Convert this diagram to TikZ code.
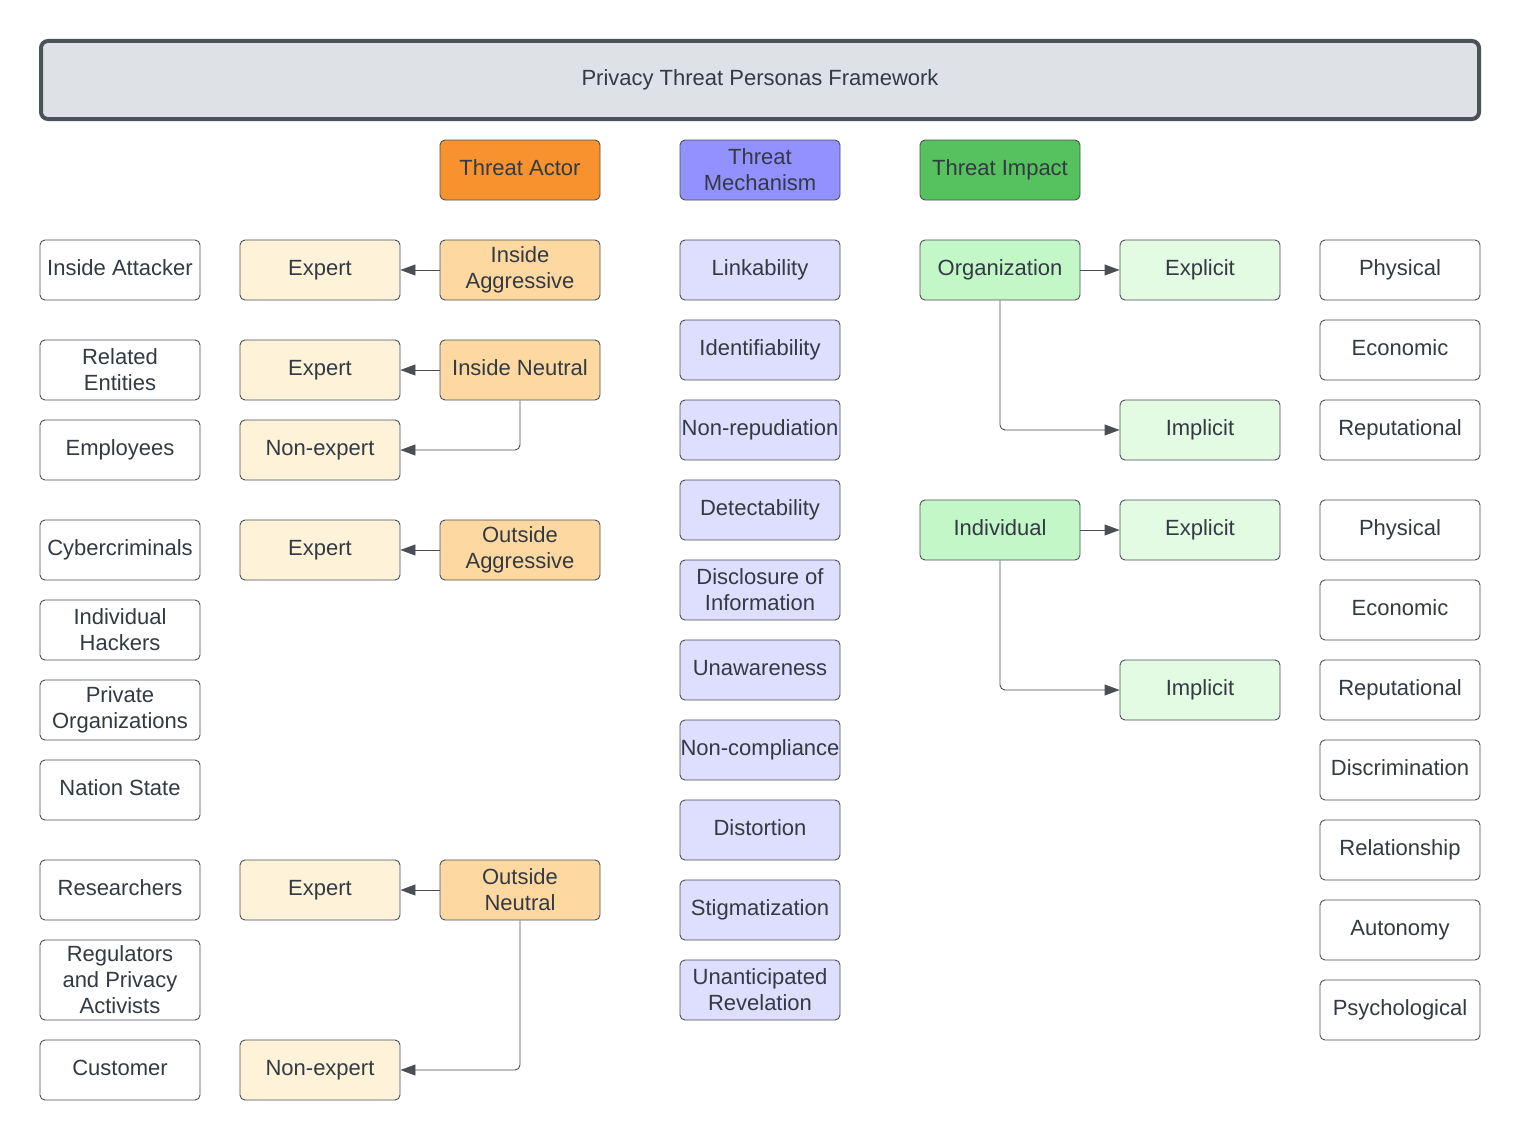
\documentclass[tikz,border=0pt]{standalone}
\usepackage{fontspec}
\setmainfont{Liberation Sans}
\usetikzlibrary{arrows.meta}
\definecolor{edge}{HTML}{4A5058}
\definecolor{txt}{HTML}{333A42}
\definecolor{titlefill}{HTML}{DEE2E6}
\definecolor{titleedge}{HTML}{4B5359}
\definecolor{actorhead}{HTML}{F7922E}
\definecolor{mechhead}{HTML}{9391FF}
\definecolor{impacthead}{HTML}{55C25E}
\definecolor{actorsub}{HTML}{FDD8A0}
\definecolor{expertfill}{HTML}{FEF2D8}
\definecolor{mechfill}{HTML}{DEDEFF}
\definecolor{impactsub}{HTML}{C3F7C8}
\definecolor{impactleaf}{HTML}{E3FAE3}
\definecolor{conn}{HTML}{4A4F57}
\tikzset{
  box/.style={draw=edge, line width=0.9pt, rounded corners=5pt, minimum width=160pt, minimum height=60pt,
    align=center, inner sep=0pt, text=txt, font=\fontsize{22pt}{26pt}\selectfont,
    text height=16pt, text depth=5pt},
  ml/.style={text height=, text depth=},
  plain/.style={box, fill=white},
  actorh/.style={box, fill=actorhead},
  mechh/.style={box, fill=mechhead},
  imph/.style={box, fill=impacthead},
  actors/.style={box, fill=actorsub},
  expertb/.style={box, fill=expertfill},
  mechb/.style={box, fill=mechfill},
  imps/.style={box, fill=impactsub},
  impl/.style={box, fill=impactleaf},
  arr/.style={draw=conn, line width=0.9pt, rounded corners=5pt, -{Triangle[length=15pt,width=11pt]}},
}
\begin{document}
\begin{tikzpicture}[x=1pt,y=-1pt]
\useasboundingbox[fill=white] (0,0) rectangle (1520,1140);
% title
\node[draw=titleedge, line width=4pt, rounded corners=7pt, fill=titlefill, minimum width=1438pt, minimum height=78pt,
  text=txt, font=\fontsize{22pt}{26pt}\selectfont, inner sep=0pt] (title) at (760,80) {Privacy Threat Personas Framework};
% headers
\node[actorh] (ta) at (520,170) {Threat Actor};
\node[mechh, ml] (tm) at (760,170) {Threat\\Mechanism};
\node[imph] (ti) at (1000,170) {Threat Impact};
% column 1
\node[plain] (c1a) at (120,270) {Inside Attacker};
\node[plain, ml] (c1b) at (120,370) {Related\\Entities};
\node[plain] (c1c) at (120,450) {Employees};
\node[plain] (c1d) at (120,550) {Cybercriminals};
\node[plain, ml] (c1e) at (120,630) {Individual\\Hackers};
\node[plain, ml] (c1f) at (120,710) {Private\\Organizations};
\node[plain] (c1g) at (120,790) {Nation State};
\node[plain] (c1h) at (120,890) {Researchers};
\node[plain, ml, minimum height=80pt] (c1i) at (120,980) {Regulators\\and Privacy\\Activists};
\node[plain] (c1j) at (120,1070) {Customer};
% column 2
\node[expertb] (e1) at (320,270) {Expert};
\node[expertb] (e2) at (320,370) {Expert};
\node[expertb] (n2) at (320,450) {Non-expert};
\node[expertb] (e3) at (320,550) {Expert};
\node[expertb] (e4) at (320,890) {Expert};
\node[expertb] (n4) at (320,1070) {Non-expert};
% column 3
\node[actors, ml] (ia) at (520,270) {Inside\\Aggressive};
\node[actors] (in) at (520,370) {Inside Neutral};
\node[actors, ml] (oa) at (520,550) {Outside\\Aggressive};
\node[actors, ml] (on) at (520,890) {Outside\\Neutral};
% column 4
\node[mechb] (m1) at (760,270) {Linkability};
\node[mechb] (m2) at (760,350) {Identifiability};
\node[mechb] (m3) at (760,430) {Non-repudiation};
\node[mechb] (m4) at (760,510) {Detectability};
\node[mechb, ml] (m5) at (760,590) {Disclosure of\\Information};
\node[mechb] (m6) at (760,670) {Unawareness};
\node[mechb] (m7) at (760,750) {Non-compliance};
\node[mechb] (m8) at (760,830) {Distortion};
\node[mechb] (m9) at (760,910) {Stigmatization};
\node[mechb, ml] (m10) at (760,990) {Unanticipated\\Revelation};
% column 5 and 6
\node[imps] (org) at (1000,270) {Organization};
\node[imps] (ind) at (1000,530) {Individual};
\node[impl] (ox) at (1200,270) {Explicit};
\node[impl] (oi) at (1200,430) {Implicit};
\node[impl] (ix) at (1200,530) {Explicit};
\node[impl] (ii) at (1200,690) {Implicit};
% column 7
\node[plain] (p1) at (1400,270) {Physical};
\node[plain] (p2) at (1400,350) {Economic};
\node[plain] (p3) at (1400,430) {Reputational};
\node[plain] (p4) at (1400,530) {Physical};
\node[plain] (p5) at (1400,610) {Economic};
\node[plain] (p6) at (1400,690) {Reputational};
\node[plain] (p7) at (1400,770) {Discrimination};
\node[plain] (p8) at (1400,850) {Relationship};
\node[plain] (p9) at (1400,930) {Autonomy};
\node[plain] (p10) at (1400,1010) {Psychological};
% connectors
\draw[arr] (ia.west) -- (e1.east);
\draw[arr] (in.west) -- (e2.east);
\draw[arr] (in.south) |- (n2.east);
\draw[arr] (oa.west) -- (e3.east);
\draw[arr] (on.west) -- (e4.east);
\draw[arr] (on.south) |- (n4.east);
\draw[arr] (org.east) -- (ox.west);
\draw[arr] (org.south) |- (oi.west);
\draw[arr] (ind.east) -- (ix.west);
\draw[arr] (ind.south) |- (ii.west);
\end{tikzpicture}
\end{document}
